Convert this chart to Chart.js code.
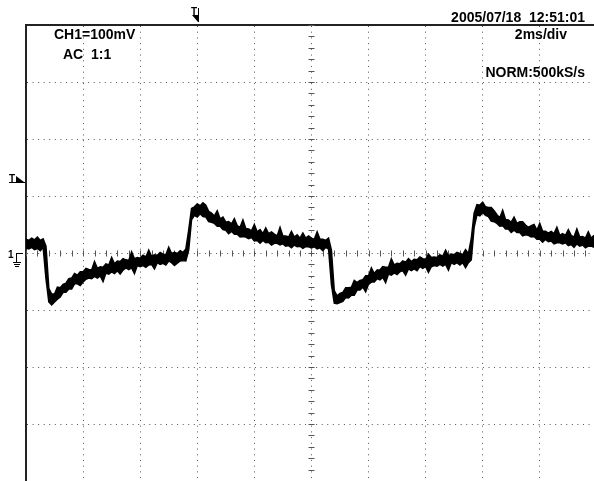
<!DOCTYPE html>
<html><head><meta charset="utf-8">
<script src="https://cdn.jsdelivr.net/npm/chart.js@4.4.1/dist/chart.umd.min.js"></script>
<style>html,body{margin:0;padding:0;background:#fff;overflow:hidden}#wrap{width:594px;height:481px;position:relative}canvas{display:block}</style>
</head><body><div id="wrap"><canvas id="c" width="594" height="481"></canvas></div>
<script>
// ---- data ----
const sampleStartMs = -10.0;   // first sample time (ms)
const sampleStepMs = 0.1;      // sample interval (ms)
// upper edge of the noisy trace band (mV)
const ch1UpperMV = [
 24,22,26,23,28,22,25,12,-62,-72,
 -72,-60,-61,-55,-53,-45,-44,-36,-39,-33,
 -33,-27,-29,-30,-15,-27,-24,-25,-19,-21,
 -8,-19,-14,-15,-10,-12,-13,2,-10,-8,
 -9,-4,-7,5,-6,-3,-4,1,-2,-3,
 10,-1,1,-1,4,1,7,40,78,81,
 86,83,88,84,73,70,65,74,60,63,
 54,55,51,60,48,45,58,43,42,39,
 50,37,41,34,44,34,37,33,30,45,
 30,30,28,38,28,32,26,35,26,30,
 26,24,37,24,24,22,26,5,-66,-75,
 -71,-69,-61,-61,-60,-48,-52,-48,-47,-40,
 -40,-26,-36,-30,-30,-24,-25,-25,-10,-21,
 -18,-19,-14,-16,-10,-15,-11,-12,-7,-10,
 -11,-2,-8,-7,-8,-3,-6,5,-5,-2,
 -3,1,-1,-3,6,-1,25,70,85,84,
 89,81,80,80,74,67,62,75,59,58,
 54,63,52,55,55,49,45,48,50,40,
 52,38,38,35,38,34,45,31,34,31,
 41,31,28,42,28,29,26,37,26,31
];
// lower edge of the noisy trace band (mV)
const ch1LowerMV = [
 9,7,10,6,8,4,10,-45,-86,-91,
 -86,-81,-77,-69,-69,-63,-63,-54,-54,-57,
 -51,-46,-44,-45,-41,-44,-40,-50,-35,-37,
 -33,-36,-31,-37,-30,-26,-29,-26,-36,-22,
 -24,-22,-25,-21,-20,-28,-17,-20,-18,-21,
 -14,-17,-22,-18,-14,-13,-14,5,58,66,
 63,69,64,63,55,54,52,47,47,41,
 40,34,38,33,33,28,29,28,25,27,
 21,22,17,22,18,19,14,17,17,14,
 16,12,13,9,14,11,12,8,11,11,
 9,11,7,9,4,10,7,-55,-88,-89,
 -87,-85,-78,-79,-74,-74,-65,-65,-60,-68,
 -55,-51,-51,-45,-47,-43,-52,-37,-39,-35,
 -38,-33,-31,-39,-28,-31,-28,-31,-24,-27,
 -24,-34,-24,-22,-23,-20,-23,-20,-30,-17,
 -20,-17,-21,-17,-26,-17,-12,45,67,65,
 71,66,64,56,55,52,47,48,42,42,
 36,40,36,36,30,32,31,28,29,24,
 24,19,24,20,21,16,18,18,16,18,
 13,15,10,16,12,14,9,12,12,10
];
const timeRangeMs = [-10, 9.9];
const timePerDivMs = 2;
const voltRangemV = [-400, 400];
const voltPerDivmV = 100;
const triggerLevelmV = 126;
const triggerPosMs = -4.08;
const infoTexts = ['CH1=100mV', 'AC  1:1', '2005/07/18  12:51:01', '2ms/div', 'NORM:500kS/s'];

const toPoints = arr => arr.map((v, i) => ({ x: sampleStartMs + i * sampleStepMs, y: v }));

const scopeDecor = {
  id: 'scopeDecor',
  beforeDatasetsDraw(chart) {
    const { ctx, scales: { x, y } } = chart;
    const x0 = Math.round(x.getPixelForValue(0)) + 0.5;
    const y0 = Math.round(y.getPixelForValue(0)) + 0.5;
    ctx.save();
    ctx.strokeStyle = '#555';
    ctx.lineWidth = 1;
    ctx.beginPath();
    for (let v = timeRangeMs[0]; v <= timeRangeMs[1] + 1e-9; v += timePerDivMs / 5) {
      const px = Math.round(x.getPixelForValue(v)) + 0.5;
      ctx.moveTo(px, y0 - 3); ctx.lineTo(px, y0 + 3);
    }
    for (let v = voltRangemV[0]; v <= voltRangemV[1] + 1e-9; v += voltPerDivmV / 5) {
      const py = Math.round(y.getPixelForValue(v)) + 0.5;
      ctx.moveTo(x0 - 3, py); ctx.lineTo(x0 + 3, py);
    }
    ctx.stroke();
    ctx.restore();
  },
  afterDraw(chart) {
    const { ctx, scales: { x, y } } = chart;
    ctx.save();
    ctx.fillStyle = '#000';
    ctx.font = 'bold 14px "Liberation Sans", Arial, sans-serif';
    ctx.textBaseline = 'alphabetic';
    ctx.textAlign = 'left';
    ctx.fillText(infoTexts[0], 54, 39);
    ctx.fillText(infoTexts[1], 63, 59);
    ctx.textAlign = 'right';
    ctx.fillText(infoTexts[2], 585, 22);
    ctx.fillText(infoTexts[3], 567, 39);
    ctx.fillText(infoTexts[4], 585, 77);

    // trigger level marker (left)
    const ty = Math.round(y.getPixelForValue(triggerLevelmV));
    ctx.font = 'bold 10px "Liberation Sans", Arial, sans-serif';
    ctx.textAlign = 'left';
    ctx.fillText('T', 9, ty + 1);
    ctx.fillRect(9, ty + 1, 16, 1);
    ctx.beginPath();
    ctx.moveTo(16, ty - 5); ctx.lineTo(24, ty + 1); ctx.lineTo(16, ty + 1); ctx.closePath(); ctx.fill();

    // ground marker
    const gy = Math.round(y.getPixelForValue(0));
    ctx.fillText('1', 8, gy + 5);
    ctx.fillRect(16, gy, 7, 1);
    ctx.fillRect(16, gy, 1, 9);
    ctx.fillRect(13, gy + 9, 8, 1);
    ctx.fillRect(14, gy + 11, 6, 1);
    ctx.fillRect(15, gy + 13, 4, 1);

    // trigger position marker (top)
    const tx = Math.round(x.getPixelForValue(triggerPosMs));
    ctx.fillText('T', tx - 4, 15);
    ctx.fillRect(tx + 3, 8, 1, 14);
    ctx.beginPath();
    ctx.moveTo(tx - 3, 15); ctx.lineTo(tx + 3, 15); ctx.lineTo(tx + 3, 22); ctx.closePath(); ctx.fill();
    ctx.restore();
  }
};

new Chart(document.getElementById('c'), {
  type: 'line',
  data: { datasets: [
    { data: toPoints(ch1UpperMV), borderColor: '#000', borderWidth: 1.5, pointRadius: 0, tension: 0, fill: false },
    { data: toPoints(ch1LowerMV), borderColor: '#000', borderWidth: 1.5, pointRadius: 0, tension: 0, fill: '-1', backgroundColor: '#000' }
  ] },
  options: {
    responsive: false, animation: false, events: [],
    layout: { padding: { left: 26, top: 25, right: 0, bottom: 0 } },
    plugins: { legend: { display: false }, tooltip: { enabled: false }, title: { display: false } },
    scales: {
      x: {
        type: 'linear', position: 'top', min: timeRangeMs[0], max: timeRangeMs[1],
        ticks: { display: false, stepSize: timePerDivMs, includeBounds: false },
        grid: { color: '#555', lineWidth: 1, drawTicks: false, tickLength: 0 },
        border: { display: true, color: '#222', width: 2, dash: [1, 4.71] },
        afterFit(s) { s.height = 0; }
      },
      y: {
        type: 'linear', position: 'left', min: voltRangemV[0], max: voltRangemV[1],
        ticks: { display: false, stepSize: voltPerDivmV, includeBounds: false },
        grid: { color: '#555', lineWidth: 1, drawTicks: false, tickLength: 0 },
        border: { display: true, color: '#222', width: 2, dash: [1, 4.56] },
        afterFit(s) { s.width = 0; }
      }
    }
  },
  plugins: [scopeDecor]
});
</script>
</body></html>
